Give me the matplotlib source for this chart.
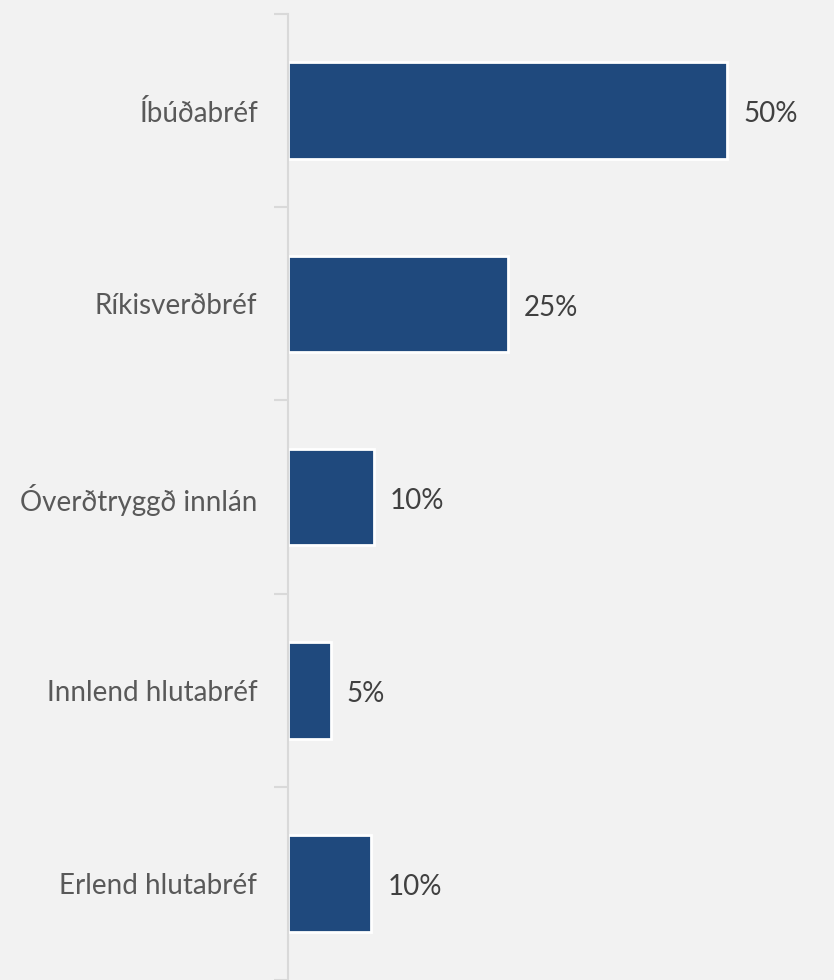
import numpy as np
import matplotlib
matplotlib.use('Agg')
import matplotlib.pyplot as plt
from matplotlib.ticker import FixedLocator

plt.rcParams['font.family'] = ['Lato', 'DejaVu Sans']

categories = ['Íbúðabréf', 'Ríkisverðbréf', 'Óverðtryggð innlán',
              'Innlend hlutabréf', 'Erlend hlutabréf']
values = [50, 25, 9.8, 4.9, 9.5]
value_labels = ['50%', '25%', '10%', '5%', '10%']

bg = '#f2f2f2'
bar_color = '#1f497d'
axis_color = '#d9d9d9'

fig = plt.figure(figsize=(8.34, 9.8), dpi=100, facecolor=bg)
ax = fig.add_axes([0.3453, 0.0, 0.632, 0.9857], facecolor=bg)

y = np.arange(len(categories))
ax.barh(y, values, height=0.5, color=bar_color,
        edgecolor='white', linewidth=2)

for yi, v, lab in zip(y, values, value_labels):
    ax.text(v + 1.8, yi + 0.02, lab, va='center', ha='left',
            fontsize=20, color='#404040')

ax.set_xlim(0, 60)
ax.set_ylim(len(categories) - 0.5, -0.5)

ax.set_yticks(y)
ax.set_yticklabels(categories, fontsize=20, color='#595959')
ax.tick_params(axis='y', which='major', length=0, pad=22)
ax.yaxis.set_minor_locator(FixedLocator(np.arange(-0.5, len(categories), 1)))
ax.tick_params(axis='y', which='minor', length=10, width=1.5,
               color=axis_color)
ax.set_xticks([])

for s in ['top', 'right', 'bottom']:
    ax.spines[s].set_visible(False)
ax.spines['left'].set_color(axis_color)
ax.spines['left'].set_linewidth(1.5)

fig.savefig('out.png', dpi=100, facecolor=bg)
